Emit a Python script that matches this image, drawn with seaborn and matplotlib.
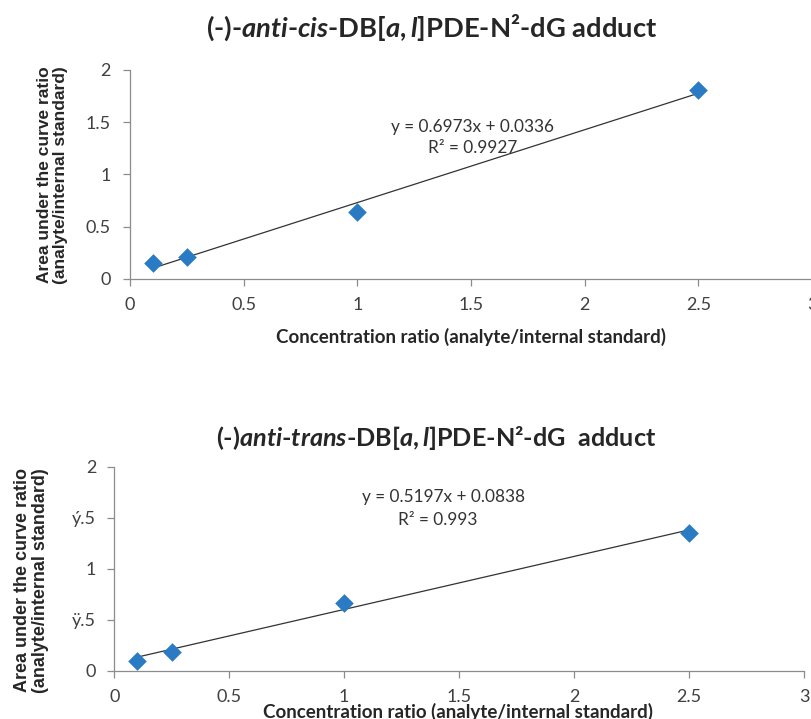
import matplotlib
matplotlib.use("Agg")
import matplotlib.pyplot as plt
import seaborn as sns
import pandas as pd

# ---- data ----
conc = [0.1, 0.25, 1.0, 2.5]
auc_cis = [0.156, 0.21, 0.64, 1.81]
auc_trans = [0.098, 0.19, 0.67, 1.35]
fit_cis = (0.6973, 0.0336, 0.9927)
fit_trans = (0.5197, 0.0838, 0.993)
x_ticks = [0, 0.5, 1, 1.5, 2, 2.5, 3]
x_ticklabels = ["0", "0.5", "1", "1.5", "2", "2.5", "3"]
y_ticks = [0, 0.5, 1, 1.5, 2]
y_ticklabels_top = ["0", "0.5", "1", "1.5", "2"]
y_ticklabels_bot = ["0", "ÿ.5", "1", "ý.5", "2"]
title_top = r"(-)-$\mathit{anti}$-$\mathit{cis}$-DB[$\mathit{a,l}$]PDE-N²-dG adduct"
title_bot = r"(-)$\mathit{anti}$-$\mathit{trans}$-DB[$\mathit{a,l}$]PDE-N²-dG  adduct"
xlabel = "Concentration ratio (analyte/internal standard)"
ylabel = "Area under the curve ratio\n(analyte/internal standard)"

sns.set_theme(style="white")
plt.rcParams["font.family"] = ["Lato", "DejaVu Sans"]
plt.rcParams["mathtext.fontset"] = "custom"
plt.rcParams["mathtext.it"] = "Lato:italic:bold"
plt.rcParams["mathtext.rm"] = "Lato:bold"

fig = plt.figure(figsize=(8.11, 7.19), dpi=100)
ax1 = fig.add_axes([0.1603, 0.6120, 0.8410, 0.2907])
ax2 = fig.add_axes([0.1409, 0.0668, 0.8504, 0.2837])

blue = "#2a7bc4"
spine_c = "#8c8c8c"

def draw(ax, y, fit, yticklabels, eq_xy, r2_xy, ypad):
    df = pd.DataFrame({"x": conc, "y": y})
    xs = [min(conc), max(conc)]
    line = pd.DataFrame({"x": xs, "y": [fit[0] * v + fit[1] for v in xs]})
    sns.lineplot(data=line, x="x", y="y", ax=ax, color="#333333", lw=0.9, zorder=2)
    sns.scatterplot(data=df, x="x", y="y", ax=ax, marker="D", s=90,
                    color=blue, edgecolor=blue, linewidth=0, zorder=3)
    ax.set_xlim(0, 3)
    ax.set_ylim(0, 2)
    ax.set_xticks(x_ticks)
    ax.set_xticklabels(x_ticklabels)
    ax.set_yticks(y_ticks)
    ax.set_yticklabels(yticklabels)
    for s in ["top", "right"]:
        ax.spines[s].set_visible(False)
    for s in ["left", "bottom"]:
        ax.spines[s].set_color(spine_c)
        ax.spines[s].set_linewidth(0.9)
    ax.tick_params(axis="both", direction="out", length=5, width=0.9, color=spine_c,
                   labelsize=13, labelcolor="#404040")
    ax.tick_params(axis="x", bottom=True, pad=8)
    ax.tick_params(axis="y", left=True, pad=ypad)
    ax.set_xlabel("")
    ax.set_ylabel("")
    ax.text(eq_xy[0], eq_xy[1], f"y = {fit[0]}x + {fit[1]}", ha="center", va="center",
            fontsize=12.4, color="#333333")
    ax.text(r2_xy[0], r2_xy[1], f"R² = {fit[2]}", ha="center", va="center",
            fontsize=12.4, color="#333333")

draw(ax1, auc_cis, fit_cis, y_ticklabels_top, (1.505, 1.455), (1.505, 1.254), 9)
draw(ax2, auc_trans, fit_trans, y_ticklabels_bot, (1.43, 1.706), (1.408, 1.48), 8)

fig.text(0.811, 0.962, title_top, ha="right", va="center", fontsize=19.7, fontweight="bold")
fig.text(0.810, 0.391, title_bot, ha="right", va="center", fontsize=18.2, fontweight="bold")

fig.text(0.581, 0.531, xlabel, ha="center", va="center", fontsize=13.5, fontweight="bold")
fig.text(0.565, 0.010, xlabel, ha="center", va="center", fontsize=13.5, fontweight="bold")

fig.text(0.065, 0.757, ylabel, ha="center", va="center", rotation=90, fontsize=12.5,
         fontweight="bold", family=["Liberation Sans", "DejaVu Sans"], linespacing=1.1)
fig.text(0.039, 0.193, ylabel, ha="center", va="center", rotation=90, fontsize=13,
         fontweight="bold", family=["Liberation Sans", "DejaVu Sans"], linespacing=1.1)

fig.savefig("out.png", dpi=100)
